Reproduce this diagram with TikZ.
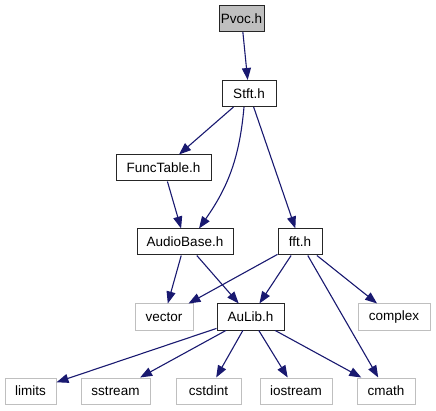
\documentclass[tikz,border=0pt]{standalone}
\usepackage{fontspec}
\setmainfont{Liberation Sans}
\usetikzlibrary{arrows.meta}
\definecolor{edgeblue}{HTML}{191970}
\definecolor{lgray}{HTML}{BFBFBF}
\tikzset{
  base/.style={draw, inner sep=0pt, minimum height=26pt, font=\fontsize{13.5}{15}\selectfont, line width=1pt},
  hdr/.style={base, draw=black!85},
  sys/.style={base, draw=lgray},
  top/.style={base, draw=black!85, fill=lgray},
  dep/.style={draw=edgeblue, line width=1.1pt, -{Triangle[length=12pt,width=9pt,fill=edgeblue]}},
}
\begin{document}
\begin{tikzpicture}[x=1pt,y=-1pt]
\useasboundingbox (0,0) rectangle (436,411);
\node[top, minimum width=45pt] (pvoc) at (241.5,18.5) {Pvoc.h};
\node[hdr, minimum width=54pt] (stft) at (249,93.5) {Stft.h};
\node[hdr, minimum width=95pt] (func) at (163.5,168) {FuncTable.h};
\node[hdr, minimum width=96pt] (audio) at (185,242) {AudioBase.h};
\node[hdr, minimum width=44pt] (fft) at (300,242) {fft.h};
\node[sys, minimum width=58pt] (vector) at (164,317) {vector};
\node[hdr, minimum width=67pt] (aulib) at (250.5,317) {AuLib.h};
\node[sys, minimum width=72pt] (complex) at (394,317) {complex};
\node[sys, minimum width=51pt] (limits) at (30.5,391) {limits};
\node[sys, minimum width=69pt] (sstream) at (115.5,391) {sstream};
\node[sys, minimum width=65pt] (cstdint) at (208.5,391) {cstdint};
\node[sys, minimum width=72pt] (iostream) at (296,391) {iostream};
\node[sys, minimum width=58pt] (cmath) at (386,391) {cmath};

\draw[dep] (pvoc) -- (stft);
\draw[dep] (stft) -- (func);
\draw[dep] (stft.south) ++(-5,0) to[out=-95,in=55] (audio.north -| 199,0);
\draw[dep] (stft) -- (fft);
\draw[dep] (func) -- (audio);
\draw[dep] (audio) -- (vector);
\draw[dep] (audio) -- (aulib);
\draw[dep] (fft) -- (vector);
\draw[dep] (fft) -- (aulib);
\draw[dep] (fft) -- (complex);
\draw[dep] (fft) -- (cmath);
\draw[dep] (aulib) -- (limits);
\draw[dep] (aulib) -- (sstream);
\draw[dep] (aulib) -- (cstdint);
\draw[dep] (aulib) -- (iostream);
\draw[dep] (aulib) -- (cmath);
\end{tikzpicture}
\end{document}
